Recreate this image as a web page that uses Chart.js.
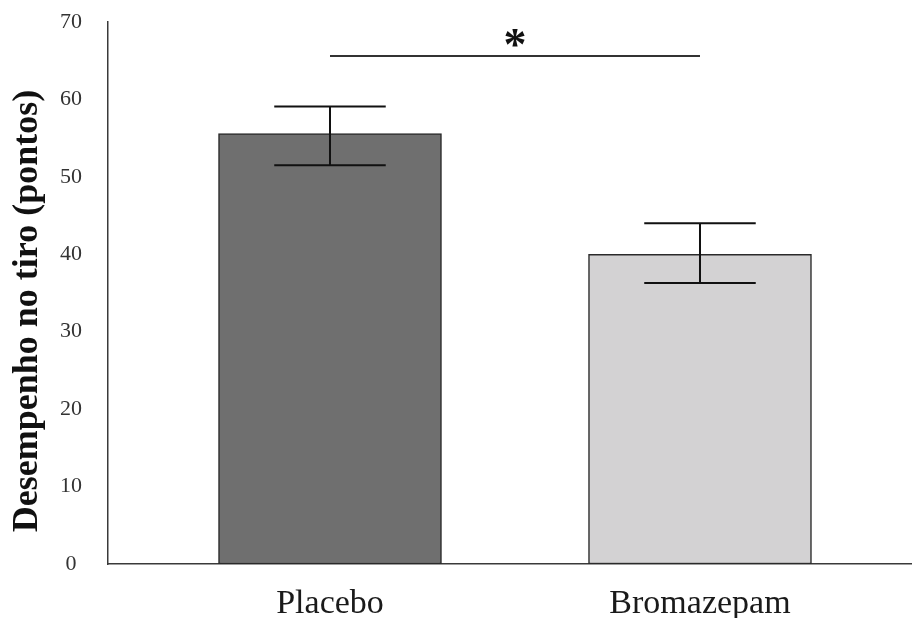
<!DOCTYPE html>
<html>
<head>
<meta charset="utf-8">
<script src="https://cdn.jsdelivr.net/npm/chart.js@4/dist/chart.umd.min.js"></script>
<style>
  html, body { margin: 0; padding: 0; background: #ffffff; }
  #wrap { width: 912px; height: 618px; }
</style>
</head>
<body>
<div id="wrap"><canvas id="chart" width="912" height="618"></canvas></div>
<script>
// Group labels, mean scores and the ends of each error whisker
const categories = ['Placebo', 'Bromazepam'];
const means = [55.6, 40.0];
const whiskerHigh = [59.1, 44.0];
const whiskerLow = [51.5, 36.3];

// Y axis tick range
const yMin = 0;
const yMax = 70;
const yStep = 10;

// Significance bracket between the two groups
const sigLevel = 65.6;
const sigMark = '*';

const yTitle = 'Desempenho no tiro (pontos)';

const SERIF = "'Liberation Serif', 'Times New Roman', serif";
const barFills = ['#6f6f6f', '#d3d2d3'];

// Error bars, significance bracket and the rotated y-axis title
const overlay = {
  id: 'overlay',
  afterDatasetsDraw(chart) {
    const { ctx } = chart;
    const xs = chart.scales.x;
    const ys = chart.scales.y;
    const meta = chart.getDatasetMeta(0);
    ctx.save();
    ctx.strokeStyle = '#111111';
    ctx.lineWidth = 2;
    means.forEach((m, i) => {
      const bar = meta.data[i];
      const cx = xs.getPixelForValue(i);
      const half = bar.width / 4;
      const top = ys.getPixelForValue(whiskerHigh[i]);
      const bot = ys.getPixelForValue(whiskerLow[i]);
      ctx.beginPath();
      ctx.moveTo(cx, top); ctx.lineTo(cx, bot);
      ctx.moveTo(cx - half, top); ctx.lineTo(cx + half, top);
      ctx.moveTo(cx - half, bot); ctx.lineTo(cx + half, bot);
      ctx.stroke();
    });

    // bracket line from bar centre to bar centre
    const sy = ys.getPixelForValue(sigLevel);
    const x0 = xs.getPixelForValue(0);
    const x1 = xs.getPixelForValue(categories.length - 1);
    ctx.strokeStyle = '#333333';
    ctx.lineWidth = 2;
    ctx.beginPath();
    ctx.moveTo(x0, sy); ctx.lineTo(x1, sy);
    ctx.stroke();
    ctx.fillStyle = '#111111';
    ctx.font = 'bold 46px ' + SERIF;
    ctx.textAlign = 'center';
    ctx.textBaseline = 'alphabetic';
    ctx.fillText(sigMark, (x0 + x1) / 2, sy + 4);

    // y-axis title
    ctx.translate(28, 311);
    ctx.rotate(-Math.PI / 2);
    ctx.font = 'bold 36px ' + SERIF;
    ctx.textAlign = 'center';
    ctx.textBaseline = 'middle';
    ctx.fillStyle = '#111111';
    ctx.fillText(yTitle, 0, 0);
    ctx.restore();
  }
};

new Chart(document.getElementById('chart'), {
  type: 'bar',
  data: {
    datasets: [{
      data: categories.map((c, i) => ({ x: i, y: means[i] })),
      backgroundColor: barFills,
      borderColor: '#2a2a2a',
      borderWidth: 1.5,
      borderSkipped: false,
      barThickness: 223
    }]
  },
  options: {
    responsive: false,
    animation: false,
    layout: { padding: { top: 22, right: 0, left: 0, bottom: 0 } },
    plugins: { legend: { display: false }, tooltip: { enabled: false } },
    scales: {
      x: {
        type: 'linear',
        min: -0.6,
        max: 1.573,
        offset: false,
        bounds: 'data',
        grid: { display: false, drawTicks: false },
        border: { display: true, color: '#3a3a3a', width: 1.5 },
        afterDataLimits(scale) { scale.min = -0.6; scale.max = 1.573; },
        afterBuildTicks(scale) {
          scale.ticks = categories.map((c, i) => ({ value: i }));
        },
        afterFit(scale) { scale.height = 54; },
        ticks: {
          padding: 20,
          color: '#1a1a1a',
          font: { family: SERIF, size: 34 },
          callback: (v) => categories[v] ?? ''
        }
      },
      y: {
        min: yMin,
        max: yMax,
        grid: { display: false, drawTicks: false },
        border: { display: true, color: '#3a3a3a', width: 1.5 },
        afterFit(scale) {
          scale.width = 108;
          // the horizontal label gap should not reserve extra room above/below
          scale.paddingTop = 0;
          scale.paddingBottom = 0;
        },
        ticks: {
          stepSize: yStep,
          padding: 26,
          crossAlign: 'center',
          color: '#333333',
          font: { family: SERIF, size: 22 }
        }
      }
    }
  },
  plugins: [overlay]
});
</script>
</body>
</html>
